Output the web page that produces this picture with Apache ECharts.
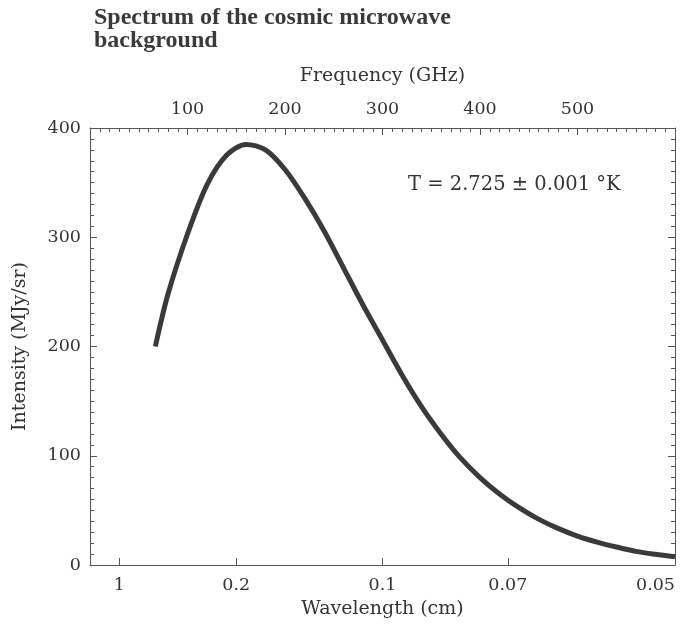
<!DOCTYPE html>
<html>
<head>
<meta charset="utf-8">
<script src="https://cdn.jsdelivr.net/npm/echarts@6/dist/echarts.min.js"></script>
<style>
html,body{margin:0;padding:0;background:#fff;}
#chart{width:683px;height:625px;}
</style>
</head>
<body>
<div id="chart"></div>
<script>
// curve: frequency (GHz) and intensity (MJy/sr)
var freqGHz   = [67, 80, 100, 120, 140, 160, 180, 200, 220, 240, 260, 280, 300, 320, 340, 360, 380, 400, 420, 440, 460, 480, 500, 520, 540, 560, 580, 600];
var intensity = [200, 248, 303, 348, 375, 385, 380, 362, 336, 306, 272, 238, 206, 174, 145, 120, 98, 80, 65, 52.5, 42, 33.5, 26.5, 21, 16.5, 12.5, 9.8, 7.6];

// axis ticks
var wavelengthCm = [1, 0.2, 0.1, 0.07, 0.05];
var wavelengthLabels = ['1', '0.2', '0.1', '0.07', '0.05'];

var serif = 'DejaVu Serif';
var ink = '#333';
var axisColor = '#555';

// wavelength (cm) -> frequency (GHz), c = 30 GHz*cm
var wavePos = wavelengthCm.map(function(l){ return 30 / l; });

var chart = echarts.init(document.getElementById('chart'));
var option = {
    animation: false,
    title: {
        text: 'Spectrum of the cosmic microwave\nbackground',
        left: 89, top: 1,
        textStyle: {fontFamily: 'Liberation Serif', fontWeight: 'bold', fontSize: 24, lineHeight: 23, color: '#3a3a3a'}
    },
    grid: {left: 90, right: 8, top: 128, bottom: 60},
    xAxis: [
        {   // bottom: wavelength
            type: 'value', position: 'bottom', min: 0, max: 600,
            name: 'Wavelength (cm)', nameLocation: 'middle', nameGap: 35,
            nameTextStyle: {fontFamily: serif, fontSize: 19, color: ink},
            axisLine: {onZero: false, lineStyle: {color: axisColor}},
            axisTick: {inside: true, length: 7, customValues: wavePos, lineStyle: {color: axisColor}},
            axisLabel: {
                customValues: wavePos, margin: 11, alignMaxLabel: 'right',
                fontFamily: serif, fontSize: 17.5, color: ink,
                formatter: function(v){
                    for (var i = 0; i < wavePos.length; i++) if (Math.abs(wavePos[i] - v) < 0.5) return wavelengthLabels[i];
                    return '';
                }
            },
            splitLine: {show: false}
        },
        {   // top: frequency
            type: 'value', position: 'top', min: 0, max: 600, interval: 100,
            name: 'Frequency (GHz)', nameLocation: 'middle', nameGap: 42,
            nameTextStyle: {fontFamily: serif, fontSize: 19, color: ink},
            axisLine: {onZero: false, lineStyle: {color: axisColor}},
            axisTick: {inside: true, length: 7, lineStyle: {color: axisColor}},
            minorTick: {show: true, splitNumber: 10, length: 4, lineStyle: {color: axisColor}},
            axisLabel: {
                margin: 10, fontFamily: serif, fontSize: 17.5, color: ink,
                formatter: function(v){ return (v > 0 && v < 600) ? v : ''; }
            },
            splitLine: {show: false}
        }
    ],
    yAxis: [
        {
            type: 'value', position: 'left', min: 0, max: 400, interval: 100,
            name: 'Intensity (MJy/sr)', nameLocation: 'middle', nameGap: 60,
            nameTextStyle: {fontFamily: serif, fontSize: 19, color: ink},
            axisLine: {show: true, onZero: false, lineStyle: {color: axisColor}},
            axisTick: {show: true, inside: true, length: 7, lineStyle: {color: axisColor}},
            minorTick: {show: true, splitNumber: 10, length: 4, lineStyle: {color: axisColor}},
            axisLabel: {margin: 9, fontFamily: serif, fontSize: 17.5, color: ink},
            splitLine: {show: false}
        },
        {
            type: 'value', position: 'right', min: 0, max: 400, interval: 100,
            axisLine: {show: true, onZero: false, lineStyle: {color: axisColor}},
            axisTick: {show: true, inside: true, length: 7, lineStyle: {color: axisColor}},
            minorTick: {show: true, splitNumber: 10, length: 4, lineStyle: {color: axisColor}},
            axisLabel: {show: false},
            splitLine: {show: false}
        }
    ],
    graphic: [{
        type: 'text', left: 408, top: 175,
        style: {text: 'T = 2.725 \u00b1 0.001 \u00b0K', fontFamily: serif, fontSize: 19.5, fill: ink}
    }],
    series: [{
        type: 'line',
        xAxisIndex: 0, yAxisIndex: 0,
        data: freqGHz.map(function(f, i){ return [f, intensity[i]]; }),
        smooth: 0.3,
        showSymbol: false,
        lineStyle: {width: 5, color: '#3a3a3a'}
    }]
};
chart.setOption(option);
</script>
</body>
</html>
